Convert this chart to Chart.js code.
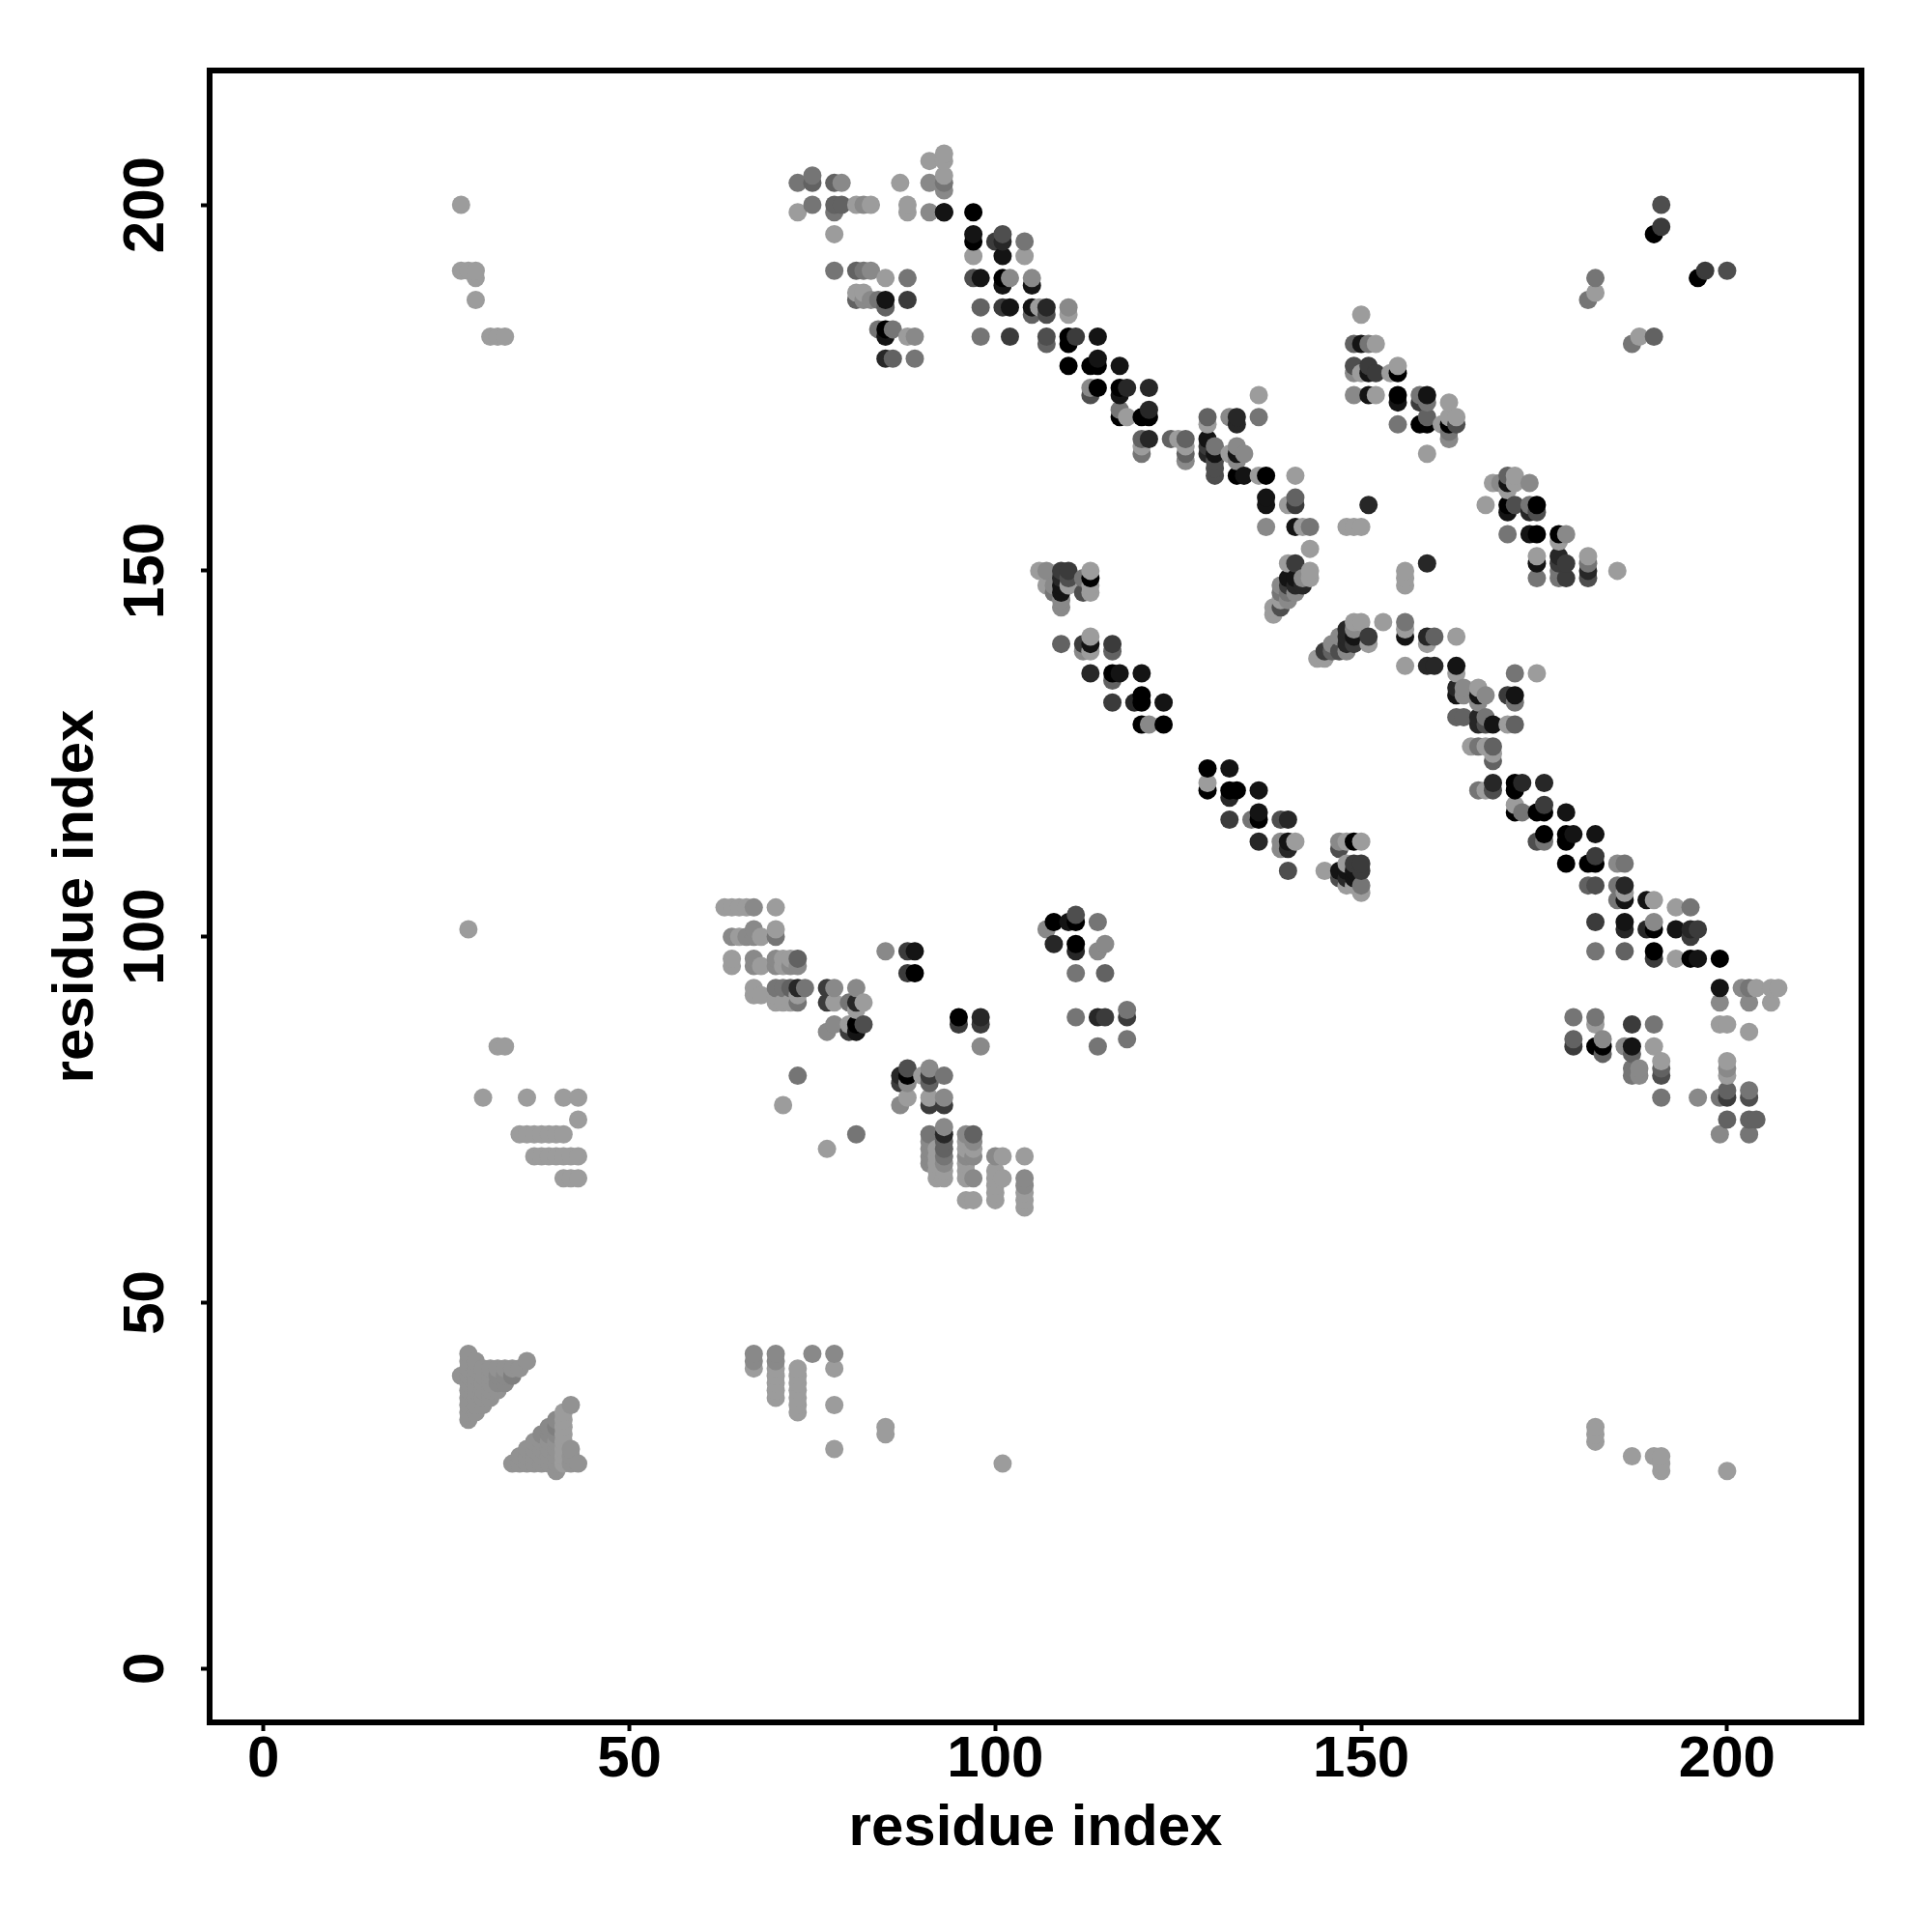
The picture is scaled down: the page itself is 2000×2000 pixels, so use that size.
<!DOCTYPE html>
<html>
<head>
<meta charset="utf-8">
<title>residue contacts</title>
<script src="https://cdn.jsdelivr.net/npm/chart.js@4"></script>
<style>
body { margin: 0; background: #fff; }
canvas { display: block; }
</style>
</head>
<body>
<canvas id="contactChart" width="2000" height="2000"></canvas>
<script>
// tick labels
const tickValues = [0, 50, 100, 150, 200];

// contacts, one group per region
// shade: 1 = lightest grey ... 9 = black

const farLeftX = [27,27,28,29,29,29,31,32,33,28, 32,33,30,36,41,43,43,35,36,37, 38,39,40,41,37,38,39,40,41,42, 43,41,42,43];
const farLeftY = [200,191,191,191,190,187,182,182,182,101, 85,85,78,78,78,78,75,73,73,73, 73,73,73,73,70,70,70,70,70,70, 70,67,67,67];
const farLeftShade = [1,1,1,1,1,1,1,1,1,1, 1,1,1,1,1,1,1,1,1,1, 1,1,1,1,1,1,1,1,1,1, 1,1,1,1];

const triangleAX = [27, 28,28,28,28,28,28,28,28,28,28, 29,29,29,29,29,29,29,29, 30,30,30,30,30,30, 31,31,31,31,31, 32,32,32,32, 33,33,33, 34,34, 35, 36];
const triangleAY = [40, 34,35,36,37,38,39,40,41,42,43, 35,36,37,38,39,40,41,42, 36,37,38,39,40,41, 37,38,39,40,41, 38,39,40,41, 39,40,41, 40,41, 41, 42];
const triangleAShade = [1.5, 1.5,1.5,1.5,1.5,1.5,1.5,1.5,1.5,1.5,1.5, 1.5,1.5,1.5,1.5,1.5,1.5,1.5,1.5, 1.5,1.5,1.5,1.5,1.5,1.5, 1.5,1.5,1.5,1.5,1.5, 1.5,2,2,1.5, 2,2,1.5, 2.5,1.5, 1.5, 1.5];

const triangleBX = [34, 35,35, 36,36,36, 37,37,37,37, 38,38,38,38,38, 39,39,39,39,39,39, 40,40,40,40,40,40,40,40, 41,41,41,41,41,41,41,41, 42,42,42,42, 43];
const triangleBY = [28, 28,29, 28,29,30, 28,29,30,31, 28,29,30,31,32, 28,29,30,31,32,33, 27,28,29,30,31,32,33,34, 28,29,30,31,32,33,34,35, 28,29,30,36, 28];
const triangleBShade = [1.5, 1.5,1.5, 1.5,1.5,1.5, 1.5,1.5,1.5,1.5, 1.5,1.5,1.5,1.5,2, 1.5,1.5,1.5,1.5,2,2, 1.5,1.5,1.5,1.5,1.5,2,2.5,2, 1,1,1,1,1,1,1,1, 1.5,1.5,1.5,1.5, 1.5];

const lowColumnsX = [67,67,67, 70,70,70,70,70,70,70, 73,73,73,73,73,73,73, 75, 78,78,78,78, 85,85, 101, 182,182,182, 187, 190,191,191,191, 200];
const lowColumnsY = [43,42,41, 43,42,41,40,39,38,37, 41,40,39,38,37,36,35, 43, 43,41,36,30, 33,32, 28, 33,32,31, 29, 29,29,28,27, 27];
const lowColumnsShade = [2,2,1, 2,2,1,1,1,1,1, 1,1,1,1,1,1,1, 2, 2,1,1,1, 1,1, 1, 1,1,1, 1, 1,1,1,1, 1];

const blockLeftX = [63,64,65,66,67,70, 67,70, 64,65,66,67,68,70, 64,64, 67,67,68, 70,70,71,71,72,72,73,73, 67,67,68, 70,70,70, 71,71, 72,72, 73,73,73, 74];
const blockLeftY = [104,104,104,104,104,104, 101,101, 100,100,100,100,100,100, 97,96, 97,96,96, 97,96,97,96,97,96,97,96, 93,92,92, 93,92,91, 93,91, 93,91, 93,92,91, 93];
const blockLeftShade = [1,1,1,1,2,1, 2,1, 2,1,2,2,1,3, 1,1, 2,2,1, 2,2,1,1,1,2,4,2, 1,1,1, 3,1,1, 3,1, 4,1, 7,1,3, 3];

const blockMidX = [77,78,77,78,81,80,81,82,81,78, 77,80,81,82,80,81, 85,88,89,88,89];
const blockMidY = [93,93,91,91,93,91,91,91,90,88, 87,88,88,88,87,87, 98,98,98,95,95];
const blockMidShade = [6,2,6,1,2,3,7,1,1,2, 2,1,9,5,6,8, 2,6,8,6,9];

const helixPairX = [95,95,98,98,98, 108,107,110,111,111,114, 108,111,111,115,114,111,115, 111,114,115,118,118,114,118];
const helixPairY = [89,88,89,88,85, 102,101,102,102,103,102, 99,99,98,99,98,95,95, 89,89,89,90,89,85,86];
const helixPairShade = [9,6,7,6,2, 9,2,8,9,5,3, 7,9,7,2,2,3,4, 3,7,6,3,6,3,3];

const lowMidX = [73,71,81,77, 87,87,88,88,88,90,91,91,91,93, 88,87,91,91,93,93];
const lowMidY = [81,77,73,71, 81,80,82,81,80,81,82,81,80,81, 78,77,78,77,78,77];
const lowMidShade = [3,1,3,1, 7,6,5,9,2,1,2,6,4,3, 1,2,1,6,2,6];

const stackX = [91,91,91,91,91, 92,92,92,92,92, 93,93,93,93,93,93,93,93, 96,96,96,96,96,96,96, 97,97,97,97,97, 96,97];
const stackY = [73,72,71,70,69, 71,70,69,68,67, 74,73,72,71,70,69,68,67, 73,72,71,70,69,68,67, 73,72,71,70,67, 64,64];
const stackShade = [3,2,2,2,2, 1,1,1,1,1, 2,7,4,4,3,2,1,1, 2,1,1,2,1,1,1, 4,2,1,2,2, 1,1];

const stackRightX = [100,101,104,100,101,100,100,100,100, 104,104,104,104,104];
const stackRightY = [70,70,70,68,67,67,66,65,64, 67,66,65,64,63];
const stackRightShade = [2,1,1,1,1,1,1,1,1, 2,2,1,1,1];

const topLeftX = [73,75,75,73,75, 78,79,78,79,78, 81,82,83,78,87,88,88,91,91,91, 93,93,93,93,93,93];
const topLeftY = [203,204,203,199,200, 203,203,200,200,199, 200,200,200,196,203,200,199,203,206,199, 207,206,204,203,202,199];
const topLeftShade = [3,3,4,1,3, 4,2,4,4,3, 1,2,1,1,1,1,1,2,1,2, 1,1,1,3,2,8];

const branchX = [78,81,82,83,85,88,81,82, 81,82,83,84,85,88,85, 84,85,86,85,88,89, 85,86,89];
const branchY = [191,191,191,191,190,190,188,188, 187,187,187,187,187,187,186, 183,183,183,182,182,182, 179,179,179];
const branchShade = [3,4,3,2,1,3,1,1, 4,2,2,3,8,6,4, 3,9,3,8,1,2, 7,4,3];

const diagTopX = [97,97,97,100,101,101,101,104,104, 97,98,101,102,105,101,105, 98,101,102,105,106,107,105,107,110,110, 98,102,107,107,110,111,110,114];
const diagTopY = [196,195,193,195,196,195,193,195,193, 190,190,190,190,190,189,189, 186,186,186,186,186,186,185,185,186,185, 182,182,182,181,182,182,181,182];
const diagTopShade = [8,9,1,6,5,7,8,3,1, 5,8,9,2,2,8,8, 4,6,8,8,1,7,4,5,2,1, 3,6,5,4,9,6,9,8];

const diagTop2X = [97,93,110,113,114,114,117, 113,114,113,117,118,117,121, 117,121,117,118,120,121, 120,121,120,120];
const diagTop2Y = [199,199,178,178,178,179,178, 175,175,174,175,175,174,175, 172,172,171,171,171,171, 168,168,167,166];
const diagTop2Shade = [9,8,9,9,9,8,8, 2,9,5,9,7,8,7, 3,7,9,1,9,9, 4,7,1,3];

const diagMidX = [124,125,126,126,126,126, 129,129,129,129,129, 130,130,130,130,130, 132,133,133,136,136];
const diagMidY = [168,168,168,167,166,165, 171,170,168,167,166, 167,166,165,164,163, 171,171,170,174,171];
const diagMidShade = [4,1,4,1,4,2, 4,1,8,6,7, 3,8,5,5,5, 2,7,7,1,3];

const diagMid2X = [132,133,133,134,133,133,134,136, 137,141, 137,137,140,141,141, 137,141,142,143,143, 148,149,150,151];
const diagMid2Y = [166,166,167,166,165,163,163,163, 163,163, 160,159,159,160,159, 156,156,156,156,153, 156,156,156,159];
const diagMid2Shade = [1,8,2,2,2,9,8,1, 9,1, 8,8,1,4,6, 2,8,1,3,1, 1,1,1,7];

const upperRightX = [150,149,150,151,152, 149,151,155, 149,150,151,152,154,155, 149,151,152,155,155,158,159,158,159, 162];
const upperRightY = [185,181,181,181,181, 178,178,178, 177,177,177,177,177,177, 174,174,174,174,173,174,174,173,173, 173];
const upperRightShade = [1,4,8,3,1, 5,6,1, 2,1,8,6,1,9, 2,8,1,9,8,3,8,6,3, 1];

const upperRight2X = [155,158,159,159,161,162,163,162,163,162,162,159, 182,182,181,187,188,190];
const upperRight2Y = [170,170,170,171,170,170,170,171,171,168,169,166, 190,188,187,181,182,182];
const upperRight2Shade = [3,9,9,4,1,9,5,1,1,2,3,1, 3,1,3,3,1,4];

const cornerX = [191,191,190,196,197,200];
const cornerY = [200,197,196,190,191,191];
const cornerShade = [5,6,9,9,6,5];

const sheetX = [168,169,170,170,170,171,171,173, 167,170,170,171,173,173,174,174, 170,173,174,177,178,177];
const sheetY = [162,162,163,162,161,163,162,162, 159,159,158,159,159,158,159,158, 155,155,155,155,155,154];
const sheetShade = [1,2,4,8,1,1,1,2, 1,9,8,5,3,7,9,5, 3,8,9,9,2,1];

const sheet2X = [174,174,174,177,177,178,177,178,177, 181,181,181,181,185, 156,156,156,159];
const sheet2Y = [152,151,149,152,151,151,149,149,150, 152,151,150,149,150, 150,149,148,151];
const sheet2Shade = [1,8,3,7,6,6,3,6,3, 1,3,7,5,1, 1,1,1,7];

const kinkX = [140,141,143,143,142,141,140,142,141,140,139, 141,140,139,140,139,139,138,138];
const kinkY = [151,151,150,149,149,149,149,148,148,148,148, 147,147,147,146,146,145,145,144];
const kinkShade = [1,6,1,1,2,8,8,7,7,6,2, 2,3,3,2,1,5,1,1];

const arcX = [149,150,153,156,156,156,151,159,160,163,159,151, 156,159,160,163,163, 148,149,148,149,147,149,148,146,147,146,148,145,145,144];
const arcY = [143,143,143,143,142,141,141,141,141,141,140,140, 137,137,137,137,136, 142,142,141,141,141,140,140,140,139,139,139,139,138,138];
const arcShade = [1,1,1,3,1,8,6,7,4,1,1,1, 1,7,7,8,1, 7,2,7,8,2,6,7,2,5,4,2,6,1,1];

const centerX = [106,107,109,110,113,109,110,112,113,107,108,109,110,113, 108,109,112,113,109,109];
const centerY = [150,150,150,150,150,149,149,149,149,148,148,148,148,148, 147,147,147,147,146,145];
const centerShade = [1,2,6,6,1,7,5,3,9,1,2,8,1,1, 3,8,5,1,2,2];

const center2X = [109,112,113,113,112,113,116,116, 113,116,117,116,120, 116,119,120,120,123, 120,121,123];
const center2Y = [140,140,141,140,139,139,140,139, 136,136,136,135,136, 132,132,132,133,132, 129,129,129];
const center2Shade = [4,6,1,8,2,1,6,4, 7,9,8,4,8, 6,7,9,9,8, 9,2,9];

const lowerChainX = [129,132,129,129,132,133,132,136, 132,135,136,136,139,140, 136,139,139,140,140,141, 140];
const lowerChainY = [123,123,121,120,120,120,119,120, 116,116,117,116,116,116, 113,113,112,113,112,113, 109];
const lowerChainShade = [9,8,1,9,9,9,7,8, 6,3,8,9,5,7, 7,2,2,8,7,1, 5];

const lowerEndX = [147,148,149,150,147, 145,147,147,148,148,149,149,150,150,148,149,150,150,148,149];
const lowerEndY = [113,113,113,113,112, 109,109,108,110,109,109,110,110,109,107,107,107,106,108,108];
const lowerEndShade = [2,1,9,1,5, 1,8,5,1,8,8,6,6,6,1,1,3,1,7,8];

const lowerDiagX = [171,174, 163,163,164,164,166,166,167,166,170,171,171, 163,164,166,167,166,167,168,170,171];
const lowerDiagY = [136,136, 134,133,134,133,134,133,133,132,133,133,132, 130,130,130,130,129,129,129,129,129];
const lowerDiagShade = [3,1, 7,8,2,2,1,8,2,2,6,8,3, 4,4,7,3,7,5,8,1,4];

const lowerDiag2X = [165,166,167,168,168,168, 168,171,172,175,166,167,168,171, 171,175,171,172,174,175,178];
const lowerDiag2Y = [126,126,126,126,125,124, 121,121,121,121,120,120,120,120, 118,118,117,117,117,117,117];
const lowerDiag2Shade = [1,3,1,4,1,4, 7,9,7,7,3,1,5,9, 1,6,9,3,9,9,8];

const tailDiagX = [175,178,179,182,174,175,178, 178,181,182,182,185,186, 181,182,185,186,186,185,186,189,190,193,195];
const tailDiagY = [114,114,114,114,113,113,113, 110,110,110,111,110,110, 107,107,107,107,106,105,105,105,105,104,104];
const tailDiagShade = [9,9,8,8,5,3,9, 9,9,9,6,2,3, 4,5,3,7,1,3,8,8,1,1,3];

const tailDiag2X = [182,186,190,186,189,190,193,195,196,195, 182,186,190,190,193,195,196,199];
const tailDiag2Y = [102,102,102,101,101,101,101,101,101,100, 98,98,98,97,97,97,97,97];
const tailDiag2Shade = [6,8,2,7,7,9,8,7,6,6, 3,4,9,6,1,9,8,9];

const endTopX = [199,202,203,204,206,207,199,203,206, 199,200,203];
const endTopY = [93,93,93,93,93,93,91,91,91, 88,88,87];
const endTopShade = [8,2,3,1,1,1,2,2,1, 1,1,1];

const endLowX = [179,182,182,187,190,179,179,182,183,183,183, 186,187,187,190, 191,191,191,187,187,188,188];
const endLowY = [89,89,88,88,88,86,85,85,86,85,84, 85,85,84,85, 83,82,81,82,81,82,81];
const endLowShade = [3,3,1,6,3,4,6,9,2,9,4, 2,8,4,1, 1,4,5,3,3,2,2];

const endLow2X = [200,200,200,200,200, 191,196,199,203,203, 200,203,204,199,203];
const endLow2Y = [83,82,81,79,78, 78,78,78,79,78, 75,75,75,73,73];
const endLow2Shade = [1,2,1,4,6, 3,2,3,3,5, 4,4,4,2,3];

// every group goes into one scatter series
const groupX = [farLeftX, triangleAX, triangleBX, lowColumnsX, blockLeftX, blockMidX, helixPairX, lowMidX, stackX, stackRightX, topLeftX, branchX, diagTopX, diagTop2X, diagMidX, diagMid2X, upperRightX, upperRight2X, cornerX, sheetX, sheet2X, kinkX, arcX, centerX, center2X, lowerChainX, lowerEndX, lowerDiagX, lowerDiag2X, tailDiagX, tailDiag2X, endTopX, endLowX, endLow2X];
const groupY = [farLeftY, triangleAY, triangleBY, lowColumnsY, blockLeftY, blockMidY, helixPairY, lowMidY, stackY, stackRightY, topLeftY, branchY, diagTopY, diagTop2Y, diagMidY, diagMid2Y, upperRightY, upperRight2Y, cornerY, sheetY, sheet2Y, kinkY, arcY, centerY, center2Y, lowerChainY, lowerEndY, lowerDiagY, lowerDiag2Y, tailDiagY, tailDiag2Y, endTopY, endLowY, endLow2Y];
const groupShade = [farLeftShade, triangleAShade, triangleBShade, lowColumnsShade, blockLeftShade, blockMidShade, helixPairShade, lowMidShade, stackShade, stackRightShade, topLeftShade, branchShade, diagTopShade, diagTop2Shade, diagMidShade, diagMid2Shade, upperRightShade, upperRight2Shade, cornerShade, sheetShade, sheet2Shade, kinkShade, arcShade, centerShade, center2Shade, lowerChainShade, lowerEndShade, lowerDiagShade, lowerDiag2Shade, tailDiagShade, tailDiag2Shade, endTopShade, endLowShade, endLow2Shade];

let points = [];
groupX.forEach(function (xs, g) {
  xs.forEach(function (x, i) {
    points.push({ x: x, y: groupY[g][i], shade: groupShade[g][i] });
  });
});

// later residues are painted on top
points.sort(function (a, b) { return a.x - b.x || a.y - b.y; });

function shadeColor(s) {
  let v = Math.round(156 - (s - 1) * 19.5);
  return "rgb(" + v + "," + v + "," + v + ")";
}

const panelBorder = {
  id: "panelBorder",
  afterDatasetsDraw(chart) {
    const a = chart.chartArea;
    const c = chart.ctx;
    c.save();
    c.strokeStyle = "#000";
    c.lineWidth = 6;
    c.lineJoin = "miter";
    c.strokeRect(a.left, a.top, a.right - a.left, a.bottom - a.top);
    c.restore();
  }
};

const labelFont = { family: "'Liberation Sans', Arial, sans-serif", size: 60, weight: "bold", lineHeight: 1 };

new Chart(document.getElementById("contactChart"), {
  type: "scatter",
  data: {
    datasets: [{
      label: "contacts",
      data: points,
      pointRadius: 9.5,
      pointBorderWidth: 0,
      pointBackgroundColor: points.map(p => shadeColor(p.shade))
    }]
  },
  plugins: [panelBorder],
  options: {
    responsive: false,
    animation: false,
    devicePixelRatio: 1,
    layout: { autoPadding: false, padding: { top: 73, right: 73, left: 0, bottom: 0 } },
    plugins: { legend: { display: false }, tooltip: { enabled: false } },
    scales: {
      x: {
        type: "linear",
        min: -7.36,
        max: 218.36,
        afterBuildTicks: s => { s.ticks = tickValues.map(v => ({ value: v })); },
        afterFit: s => { s.height = 217; },
        border: { display: false },
        grid: { drawOnChartArea: false, drawTicks: true, tickLength: 9, tickWidth: 4, tickColor: "#000" },
        ticks: { color: "#000", font: labelFont, padding: 0, autoSkip: false, maxRotation: 0, minRotation: 0 },
        title: { display: true, text: "residue index", color: "#000", font: labelFont, padding: { top: 0, bottom: 77 } }
      },
      y: {
        type: "linear",
        min: -7.36,
        max: 218.36,
        afterBuildTicks: s => { s.ticks = tickValues.map(v => ({ value: v })); },
        afterFit: s => { s.width = 217; },
        border: { display: false },
        grid: { drawOnChartArea: false, drawTicks: true, tickLength: 9, tickWidth: 4, tickColor: "#000" },
        ticks: { color: "#000", font: labelFont, padding: 5, autoSkip: false, minRotation: 90, maxRotation: 90, crossAlign: "center" },
        title: { display: true, text: "residue index", color: "#000", font: labelFont, padding: { top: 49.5, bottom: 0 } }
      }
    }
  }
});
</script>
</body>
</html>
